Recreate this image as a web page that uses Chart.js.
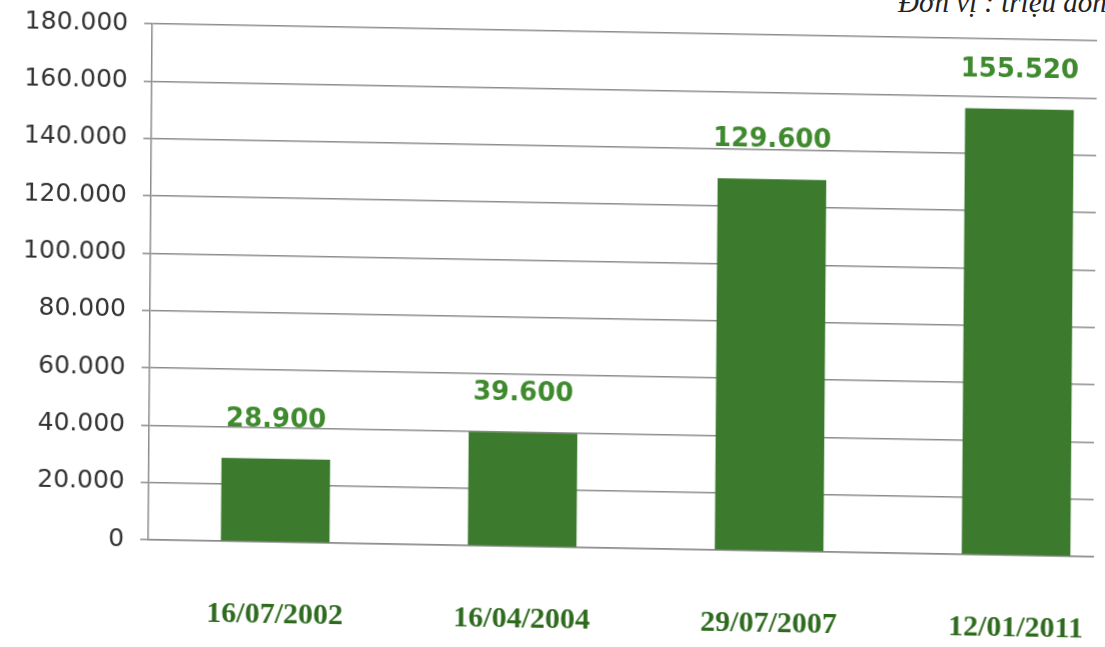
<!DOCTYPE html>
<html lang="vi">
<head>
  <meta charset="UTF-8" />
  <title>Vốn điều lệ</title>
  <script src="https://cdn.jsdelivr.net/npm/chart.js"></script>
  <style>
    html, body {
      margin: 0;
      padding: 0;
      background: #fff;
      overflow: hidden;
      width: 1105px;
      height: 647px;
    }

    #wrap {
      position: absolute;
      left: 0;
      top: 0;
      width: 1105px;
      height: 647px;
      /* the scan is a little crooked */
      transform: matrix(1, 0.018, -0.0077, 1, 0, 0);
      transform-origin: 50% 50%;
    }

    #unit {
      position: absolute;
      left: 898px;
      top: -12px;
      font-family: "Liberation Serif", serif;
      font-style: italic;
      font-size: 29px;
      line-height: 29px;
      color: #222;
      white-space: nowrap;
    }
  </style>
</head>
<body>
  <div id="unit">Đơn vị : triệu đồng</div>
  <div id="wrap">
    <canvas id="capitalChart" width="1105" height="647"></canvas>
  </div>

  <script>
    const dates = ['16/07/2002', '16/04/2004', '29/07/2007', '12/01/2011'];
    const capital = [28900, 39600, 129600, 155520];
    const yTicks = [0, 20000, 40000, 60000, 80000, 100000, 120000, 140000, 160000, 180000];

    const BAR_GREEN = '#3c7a2e';
    const LABEL_GREEN = '#3f8a2f';
    const DATE_GREEN = '#2e6b1f';
    const GRID_GRAY = '#8c8c8c';

    function dotThousands(v) {
      return String(v).replace(/\B(?=(\d{3})+(?!\d))/g, '.');
    }

    // value labels above each bar
    const valueLabels = {
      id: 'valueLabels',
      afterDatasetsDraw(chart) {
        const ctx = chart.ctx;
        const meta = chart.getDatasetMeta(0);
        ctx.save();
        ctx.font = 'bold 26px "DejaVu Sans", sans-serif';
        ctx.fillStyle = LABEL_GREEN;
        ctx.textAlign = 'center';
        ctx.textBaseline = 'alphabetic';
        meta.data.forEach((bar, i) => {
          ctx.fillText(dotThousands(capital[i]), bar.x, bar.y - 32);
        });
        ctx.restore();
      }
    };

    const ctx = document.getElementById('capitalChart').getContext('2d');
    new Chart(ctx, {
      type: 'bar',
      data: {
        datasets: [{
          data: capital.map((v, i) => ({ x: i, y: v })),
          backgroundColor: BAR_GREEN,
          borderWidth: 0,
          barThickness: 108
        }]
      },
      options: {
        responsive: false,
        animation: false,
        layout: {
          padding: { top: 29, right: 10, left: 0, bottom: 0 }
        },
        plugins: {
          legend: { display: false },
          tooltip: { enabled: false }
        },
        scales: {
          x: {
            type: 'linear',
            offset: false,
            min: -0.514,
            max: 3.312,
            afterBuildTicks(scale) {
              scale.ticks = dates.map((d, i) => ({ value: i }));
            },
            afterFit(scale) {
              scale.height = 100;
              scale.paddingLeft = 0;
              scale.paddingRight = 0;
            },
            grid: { display: false, offset: false },
            border: { display: true, color: GRID_GRAY, width: 1.5 },
            ticks: {
              autoSkip: false,
              maxRotation: 0,
              padding: 47,
              color: DATE_GREEN,
              font: { family: '"Liberation Serif", serif', weight: 'bold', size: 30 },
              callback: (v) => dates[v]
            }
          },
          y: {
            min: 0,
            max: 180000,
            afterBuildTicks(scale) {
              scale.ticks = yTicks.map(v => ({ value: v }));
            },
            afterFit(scale) {
              scale.width = 150;
            },
            grid: {
              color: GRID_GRAY,
              lineWidth: 1.5,
              tickLength: 8,
              drawTicks: true
            },
            border: { display: true, color: GRID_GRAY, width: 1.5 },
            ticks: {
              padding: 16,
              color: '#333',
              font: { family: '"DejaVu Sans", sans-serif', size: 25 },
              callback: (v) => dotThousands(v)
            }
          }
        }
      },
      plugins: [valueLabels]
    });
  </script>
</body>
</html>
